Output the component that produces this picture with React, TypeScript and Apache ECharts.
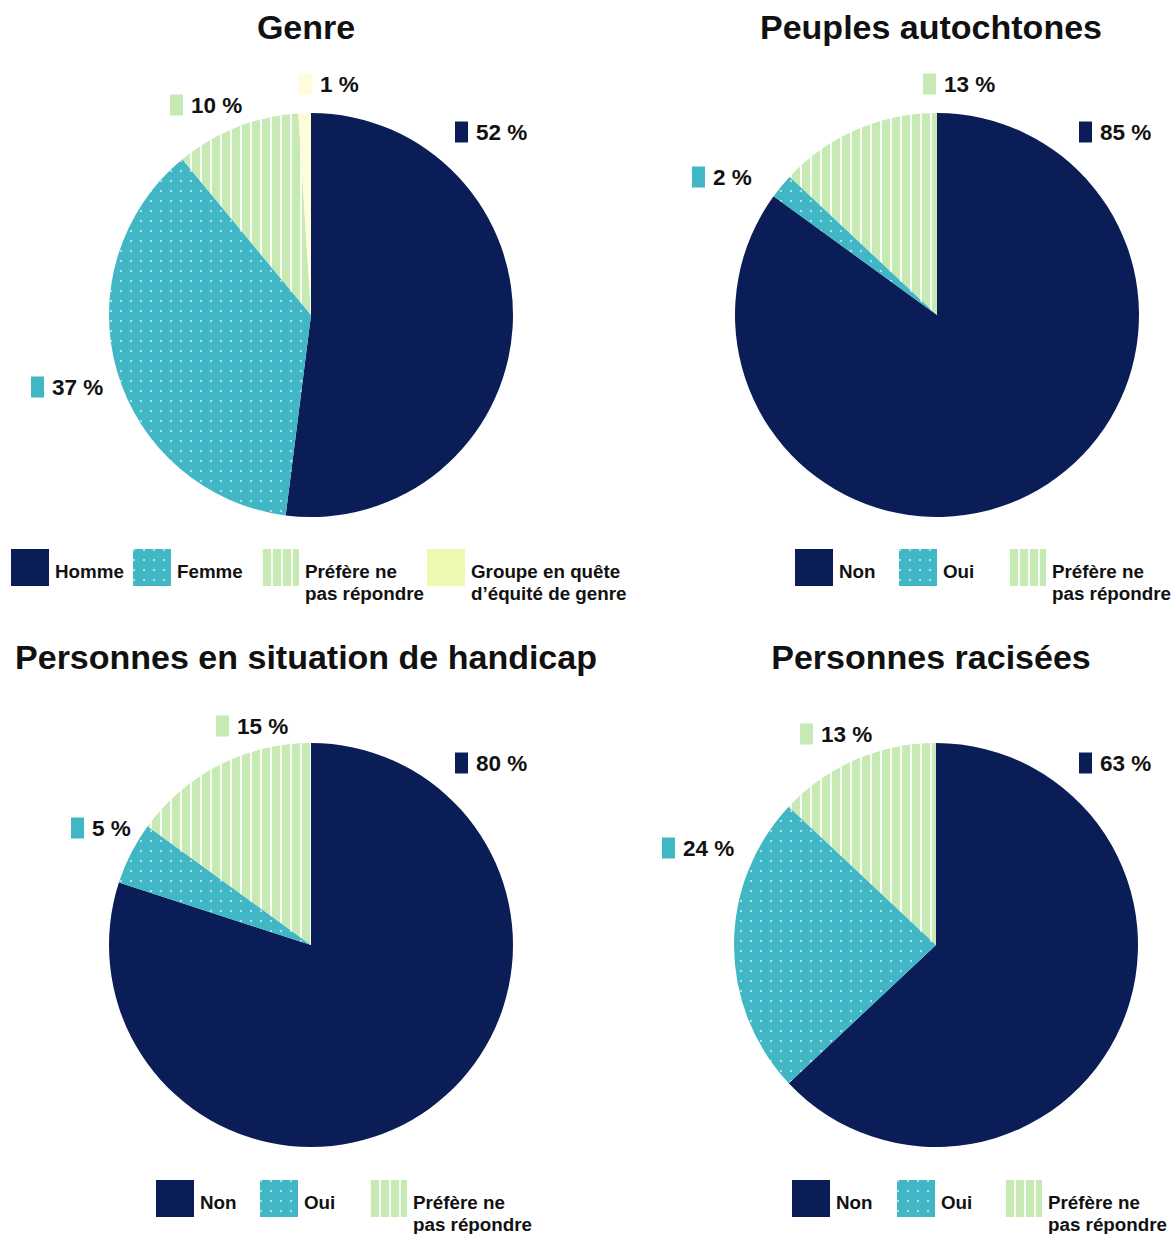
import React, { useEffect, useRef } from "react";
import * as echarts from "echarts";

// ---- data ----
const genreCategories = ["Homme", "Femme", "Préfère ne\npas répondre", "Groupe en quête\nd’équité de genre"];
const genreValues = [52, 37, 10, 1];

const ynCategories = ["Non", "Oui", "Préfère ne\npas répondre"];
const autochtonesValues = [85, 2, 13];
const handicapValues = [80, 5, 15];
const raciseesValues = [63, 24, 13];

const titles = ["Genre", "Peuples autochtones", "Personnes en situation de handicap", "Personnes racisées"];

// ---- styles / layout ----
const NAVY = "#0a1d56";
const TEAL = "#41b6c4";
const GREEN = "#c7e9b4";
const PALE = "#fffcd9";
const PALE_LEGEND = "#edf8b1";
const TEXT = "#111111";
const FONT = "'Liberation Sans', Arial, sans-serif";

const dotDecal = {
  symbol: "circle",
  symbolSize: 1,
  dashArrayX: [2, 8],
  dashArrayY: [2, 8],
  color: "rgba(225,248,250,0.8)",
};
const stripeDecal = {
  symbol: "rect",
  symbolSize: 1,
  dashArrayX: [2, 8],
  dashArrayY: [10, 0],
  color: "rgba(255,255,255,0.85)",
};
const noDecal = { symbol: "none" };

const genreStyles = [
  { color: NAVY, decal: noDecal },
  { color: TEAL, decal: dotDecal },
  { color: GREEN, decal: stripeDecal },
  { color: PALE, decal: noDecal },
];
const ynStyles = [
  { color: NAVY, decal: noDecal },
  { color: TEAL, decal: dotDecal },
  { color: GREEN, decal: stripeDecal },
];

const pieCenters = [
  [311, 315],
  [937, 315],
  [311, 945],
  [936, 945],
];
const pieRadius = 202;
const titleCenters = [
  [306, 10],
  [931, 10],
  [306, 640],
  [931, 640],
];
const labelPositions = [
  [[455, 132], [31, 387], [170, 105], [299, 84]],
  [[1079, 132], [692, 177], [923, 84]],
  [[455, 763], [71, 828], [216, 726]],
  [[1079, 763], [662, 848], [800, 734]],
];
const legendPositions = [
  [[11, 549], [133, 549], [261, 549], [427, 549]],
  [[795, 549], [899, 549], [1008, 549]],
  [[156, 1180], [260, 1180], [369, 1180]],
  [[792, 1180], [897, 1180], [1004, 1180]],
];

export default function App() {
  const ref = useRef<HTMLDivElement>(null);

  useEffect(() => {
    if (!ref.current) return;
    const chart = echarts.init(ref.current, null, { renderer: "svg" });

    const charts = [
      { cats: genreCategories, vals: genreValues, styles: genreStyles },
      { cats: ynCategories, vals: autochtonesValues, styles: ynStyles },
      { cats: ynCategories, vals: handicapValues, styles: ynStyles },
      { cats: ynCategories, vals: raciseesValues, styles: ynStyles },
    ];

    const series = charts.map((c, si) => {
      const rich: any = {
        t: {
          fontFamily: FONT,
          fontWeight: 700,
          fontSize: 22.5,
          color: TEXT,
          padding: [0, 0, 0, 8],
        },
      };
      c.styles.forEach((s, i) => {
        rich["m" + i] = { width: 13, height: 21, backgroundColor: s.color };
      });
      return {
        type: "pie",
        center: pieCenters[si],
        radius: pieRadius,
        startAngle: 90,
        clockwise: true,
        silent: true,
        itemStyle: { borderWidth: 0 },
        label: {
          show: true,
          position: "outside",
          overflow: "none",
          formatter: (p: any) => `{m${p.dataIndex}|}{t|${p.value} %}`,
          rich,
        },
        labelLine: { show: false },
        labelLayout: (params: any) => {
          const pos = labelPositions[si][params.dataIndex];
          return { x: pos[0], y: pos[1], align: "left", verticalAlign: "middle", hideOverlap: false };
        },
        data: c.cats.map((name, i) => ({
          name,
          value: c.vals[i],
          itemStyle: { color: c.styles[i].color, decal: c.styles[i].decal },
        })),
      };
    });

    const legends: any[] = [];
    const legendTexts: any[] = [];
    charts.forEach((c, si) => {
      c.cats.forEach((name, i) => {
        const pos = legendPositions[si][i];
        const isPale = c.styles[i].color === PALE;
        legends.push({
          left: pos[0],
          top: pos[1],
          padding: 0,
          icon: "rect",
          itemWidth: 38,
          itemHeight: 37,
          selectedMode: false,
          formatter: () => "",
          data: [
            isPale
              ? { name, itemStyle: { color: PALE_LEGEND, decal: noDecal } }
              : { name },
          ],
        });
        legendTexts.push({
          type: "text",
          silent: true,
          style: {
            text: name,
            x: pos[0] + 44,
            y: pos[1] + 11,
            fontFamily: FONT,
            fontWeight: 700,
            fontSize: 18.8,
            lineHeight: 22,
            fill: TEXT,
            align: "left",
            verticalAlign: "top",
          },
        });
      });
    });

    chart.setOption({
      animation: false,
      backgroundColor: "#ffffff",
      title: titles.map((t, i) => ({
        text: t,
        left: titleCenters[i][0],
        top: titleCenters[i][1],
        textAlign: "center",
        padding: 0,
        textStyle: { fontFamily: FONT, fontWeight: 700, fontSize: 34, color: TEXT },
      })),
      legend: legends,
      graphic: legendTexts,
      series,
    });

    return () => chart.dispose();
  }, []);

  return (
    <div
      ref={ref}
      style={{ position: "absolute", left: 0, top: 0, width: 1171, height: 1234 }}
    />
  );
}
